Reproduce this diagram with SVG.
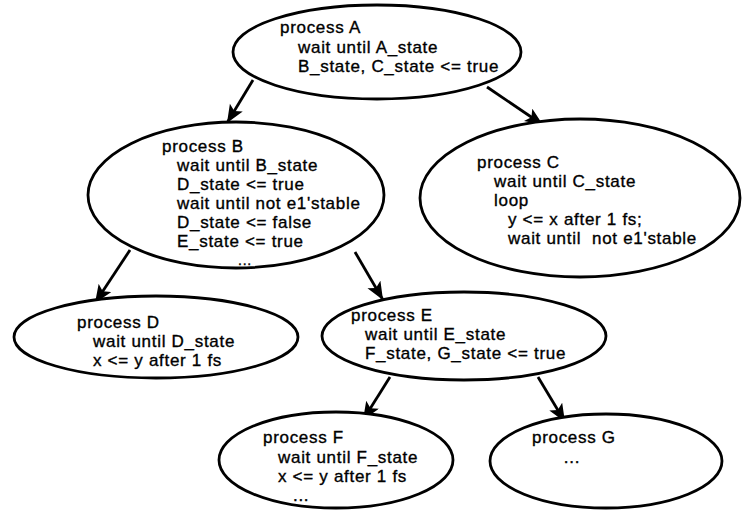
<svg xmlns="http://www.w3.org/2000/svg" width="746" height="510" viewBox="0 0 746 510">
<defs>
<style>
.n{fill:#fff;stroke:#000;stroke-width:2.8}
.t{font-family:"Liberation Sans",Arial,Helvetica,sans-serif;font-size:17px;letter-spacing:0.7px;fill:#000;stroke:#000;stroke-width:0.35}
.d{font-size:14px}
.c{stroke:#000;stroke-width:2.8;fill:none}
</style>
<marker id="ah" markerUnits="userSpaceOnUse" markerWidth="20" markerHeight="16" refX="18" refY="7.5" orient="auto">
<path d="M0,0 L18,7.5 L0,15 L4,7.5 z" fill="#000"/>
</marker>
</defs>
<rect width="746" height="510" fill="#fff"/>
<g id="connectors">
<line class="c" x1="253" y1="80" x2="227" y2="123" marker-end="url(#ah)"/>
<line class="c" x1="487" y1="87" x2="543" y2="125" marker-end="url(#ah)"/>
<line class="c" x1="130" y1="250" x2="95" y2="303" marker-end="url(#ah)"/>
<line class="c" x1="355" y1="252" x2="383" y2="300" marker-end="url(#ah)"/>
<line class="c" x1="390" y1="377" x2="363" y2="420" marker-end="url(#ah)"/>
<line class="c" x1="538" y1="377" x2="565" y2="422" marker-end="url(#ah)"/>
</g>
<g id="nodeA">
<ellipse class="n" cx="377" cy="52" rx="144" ry="47"/>
<text class="t" x="280" y="33">process A</text>
<text class="t" x="298" y="52.5">wait until A_state</text>
<text class="t" x="298" y="72">B_state, C_state &lt;= true</text>
</g>
<g id="nodeB">
<ellipse class="n" cx="236" cy="195" rx="148" ry="73"/>
<text class="t" x="162" y="152">process B</text>
<text class="t" x="177" y="171">wait until B_state</text>
<text class="t" x="177" y="190">D_state &lt;= true</text>
<text class="t" x="177" y="209">wait until not e1'stable</text>
<text class="t" x="177" y="228">D_state &lt;= false</text>
<text class="t" x="177" y="247">E_state &lt;= true</text>
<text class="t d" x="245" y="265" text-anchor="middle">...</text>
</g>
<g id="nodeC">
<ellipse class="n" cx="580" cy="198" rx="160" ry="79"/>
<text class="t" x="477" y="168">process C</text>
<text class="t" x="494" y="187">wait until C_state</text>
<text class="t" x="494" y="206">loop</text>
<text class="t" x="508" y="225">y &lt;= x after 1 fs;</text>
<text class="t" x="508" y="244" xml:space="preserve">wait until  not e1'stable</text>
</g>
<g id="nodeD">
<ellipse class="n" cx="156" cy="337" rx="142" ry="41"/>
<text class="t" x="77" y="328">process D</text>
<text class="t" x="93" y="347">wait until D_state</text>
<text class="t" x="93" y="366">x &lt;= y after 1 fs</text>
</g>
<g id="nodeE">
<ellipse class="n" cx="464" cy="336" rx="142" ry="44"/>
<text class="t" x="351" y="321">process E</text>
<text class="t" x="365" y="340">wait until E_state</text>
<text class="t" x="365" y="359">F_state, G_state &lt;= true</text>
</g>
<g id="nodeF">
<ellipse class="n" cx="336" cy="460" rx="117" ry="48"/>
<text class="t" x="263" y="443">process F</text>
<text class="t" x="278" y="463">wait until F_state</text>
<text class="t" x="278" y="482">x &lt;= y after 1 fs</text>
<text class="t" x="293" y="501">...</text>
</g>
<g id="nodeG">
<ellipse class="n" cx="606" cy="461" rx="116" ry="47"/>
<text class="t" x="532" y="443">process G</text>
<text class="t" x="572" y="463" text-anchor="middle">...</text>
</g>
</svg>
